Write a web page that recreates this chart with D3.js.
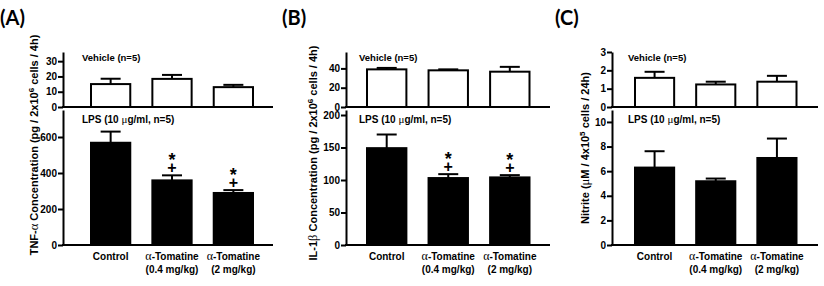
<!DOCTYPE html>
<html>
<head>
<meta charset="utf-8">
<script src="https://cdn.jsdelivr.net/npm/d3@7"></script>
<style>
  body { margin: 0; background: #fff; }
  text { font-family: "Liberation Sans", Arial, sans-serif; font-weight: bold; fill: #000; }
</style>
</head>
<body>
<div id="chart"></div>
<script>
// categories (two lines of x label)
var catLine1 = ["Control", "α-Tomatine", "α-Tomatine"];
var catLine2 = ["", "(0.4 mg/kg)", "(2 mg/kg)"];

// (A) TNF-alpha
var tnfVehicle = [15, 18.4, 13];
var tnfVehicleErr = [3.5, 2.6, 1.5];
var tnfLps = [568, 359, 289];
var tnfLpsErr = [62, 28, 16];
var tnfTopTicks = [0, 10, 20, 30];
var tnfLowTicks = [0, 200, 400, 600];

// (B) IL-1beta
var il1Vehicle = [39, 38, 36.6];
var il1VehicleErr = [1.5, 1, 5];
var il1Lps = [149, 103, 104];
var il1LpsErr = [21, 6, 3.5];
var il1TopTicks = [0, 20, 40];
var il1LowTicks = [0, 50, 100, 150, 200];

// (C) Nitrite
var noVehicle = [1.59, 1.23, 1.38];
var noVehicleErr = [0.33, 0.15, 0.32];
var noLps = [6.29, 5.18, 7.07];
var noLpsErr = [1.33, 0.22, 1.58];
var noTopTicks = [0, 1, 2, 3];
var noLowTicks = [0, 2, 4, 6, 8, 10];

// significance marks (* and +) above LPS bars
var tnfSig = [false, true, true];
var il1Sig = [false, true, true];
var noSig = [false, false, false];

var svg = d3.select("#chart").append("svg")
    .attr("width", 824)
    .attr("height", 286);

var topY = [107, 52], lowY = [245, 110];

var panels = [
  { tag: "(A)", tagX: 0, axisX: 63, barStart: 91, barEnd: 253, axisEnd: 273, textX: 82,
    topMax: 36, lowMax: 750, veh: tnfVehicle, vehErr: tnfVehicleErr, lps: tnfLps, lpsErr: tnfLpsErr,
    topTicks: tnfTopTicks, lowTicks: tnfLowTicks, sig: tnfSig,
    labX: 34, labY: 145, label: ["TNF-", "α", " Concentration (pg / 2x10", "6", " cells / 4h)"] },
  { tag: "(B)", tagX: 282, axisX: 346, barStart: 367, barEnd: 529.5, axisEnd: 550, textX: 359,
    topMax: 57, lowMax: 207.7, veh: il1Vehicle, vehErr: il1VehicleErr, lps: il1Lps, lpsErr: il1LpsErr,
    topTicks: il1TopTicks, lowTicks: il1LowTicks, sig: il1Sig,
    labX: 313, labY: 153, label: ["IL-1", "β", " Concentration (pg / 2x10", "6", " cells / 4h)"] },
  { tag: "(C)", tagX: 555, axisX: 612, barStart: 635, barEnd: 796.5, axisEnd: 818, textX: 628,
    topMax: 3, lowMax: 10.97, veh: noVehicle, vehErr: noVehicleErr, lps: noLps, lpsErr: noLpsErr,
    topTicks: noTopTicks, lowTicks: noLowTicks, sig: noSig,
    labX: 585, labY: 148, label: ["Nitrite (", "μ", "M / 4x10", "5", " cells / 24h)"] }
];

panels.forEach(function (p) {
  var g = svg.append("g");

  var x = d3.scaleBand()
    .domain(d3.range(3))
    .range([p.barStart, p.barEnd])
    .paddingInner(0.36)
    .paddingOuter(0);

  var yTop = d3.scaleLinear().domain([0, p.topMax]).range(topY);
  var yLow = d3.scaleLinear().domain([0, p.lowMax]).range(lowY);

  // panel tag
  g.append("text")
    .attr("x", p.tagX).attr("y", 25)
    .style("font-family", "Lato, 'Open Sans', sans-serif")
    .style("font-size", "20px")
    .text(p.tag);

  function drawBars(vals, errs, y, fill) {
    var sel = g.append("g");
    vals.forEach(function (v, i) {
      var cx = x(i) + x.bandwidth() / 2;
      var yTopErr = y(v + errs[i]);
      sel.append("line")
        .attr("x1", cx).attr("x2", cx)
        .attr("y1", y(v)).attr("y2", yTopErr)
        .attr("stroke", "#000").attr("stroke-width", 2);
      sel.append("line")
        .attr("x1", cx - 10).attr("x2", cx + 10)
        .attr("y1", yTopErr).attr("y2", yTopErr)
        .attr("stroke", "#000").attr("stroke-width", 2);
      sel.append("rect")
        .attr("x", x(i))
        .attr("y", y(v))
        .attr("width", x.bandwidth())
        .attr("height", y(0) - y(v))
        .attr("fill", fill)
        .attr("stroke", "#000")
        .attr("stroke-width", 2);
    });
  }

  drawBars(p.veh, p.vehErr, yTop, "#fff");
  drawBars(p.lps, p.lpsErr, yLow, "#000");

  // significance symbols
  p.lps.forEach(function (v, i) {
    if (!p.sig[i]) return;
    var cx = x(i) + x.bandwidth() / 2;
    var t = yLow(v + p.lpsErr[i]);
    g.append("text").attr("x", cx).attr("y", t - 2)
      .attr("text-anchor", "middle").style("font-size", "16px")
      .text("+");
    g.append("text").attr("x", cx).attr("y", t - 9)
      .attr("text-anchor", "middle").style("font-size", "18px")
      .text("*");
  });

  // axes
  function styleAxis(sel) {
    sel.selectAll("path, line").attr("stroke", "#000").attr("stroke-width", 2);
    sel.selectAll("text").style("font-size", "10px").attr("x", -6).attr("fill", "#000");
  }
  g.append("g")
    .attr("transform", "translate(" + p.axisX + ",0)")
    .call(d3.axisLeft(yTop).tickValues(p.topTicks).tickFormat(d3.format("d")).tickSize(5).tickSizeOuter(0))
    .call(styleAxis);
  g.append("g")
    .attr("transform", "translate(" + p.axisX + ",0)")
    .call(d3.axisLeft(yLow).tickValues(p.lowTicks).tickFormat(d3.format("d")).tickSize(5).tickSizeOuter(0))
    .call(styleAxis);

  [yTop(0), yLow(0)].forEach(function (yy) {
    g.append("line")
      .attr("x1", p.axisX - 1).attr("x2", p.axisEnd)
      .attr("y1", yy).attr("y2", yy)
      .attr("stroke", "#000").attr("stroke-width", 2);
  });

  // subpanel titles
  g.append("text").attr("x", p.textX).attr("y", 61)
    .style("font-size", "9.5px").text("Vehicle (n=5)");
  var lt = g.append("text").attr("x", p.textX).attr("y", 122.5).style("font-size", "10px");
  lt.append("tspan").text("LPS (10 ");
  lt.append("tspan").style("font-family", "'Liberation Serif', serif").style("font-weight", "normal")
    .style("font-size", "11px").text("μ");
  lt.append("tspan").text("g/ml, n=5)");

  // x category labels
  d3.range(3).forEach(function (i) {
    var cx = x(i) + x.bandwidth() / 2;
    var t1 = g.append("text").attr("x", cx).attr("y", 260)
      .attr("text-anchor", "middle").style("font-size", "10px");
    if (catLine1[i].charAt(0) === "α") {
      t1.append("tspan").style("font-family", "'Liberation Serif', serif").style("font-weight", "normal")
        .style("font-size", "12px").text("α");
      t1.append("tspan").text(catLine1[i].slice(1));
    } else {
      t1.text(catLine1[i]);
    }
    g.append("text").attr("x", cx).attr("y", 272.5)
      .attr("text-anchor", "middle").style("font-size", "10px")
      .text(catLine2[i]);
  });

  // y label
  var yl = g.append("text")
    .attr("transform", "translate(" + (p.labX + 4) + "," + p.labY + ") rotate(-90)")
    .attr("text-anchor", "middle")
    .style("font-size", "11px");
  yl.append("tspan").text(p.label[0]);
  yl.append("tspan").style("font-family", "'Liberation Serif', serif").style("font-weight", "normal")
    .style("font-size", "12.5px").text(p.label[1]);
  yl.append("tspan").text(p.label[2]);
  yl.append("tspan").attr("dy", -4).style("font-size", "8px").text(p.label[3]);
  yl.append("tspan").attr("dy", 4).text(p.label[4]);
});
</script>
</body>
</html>
